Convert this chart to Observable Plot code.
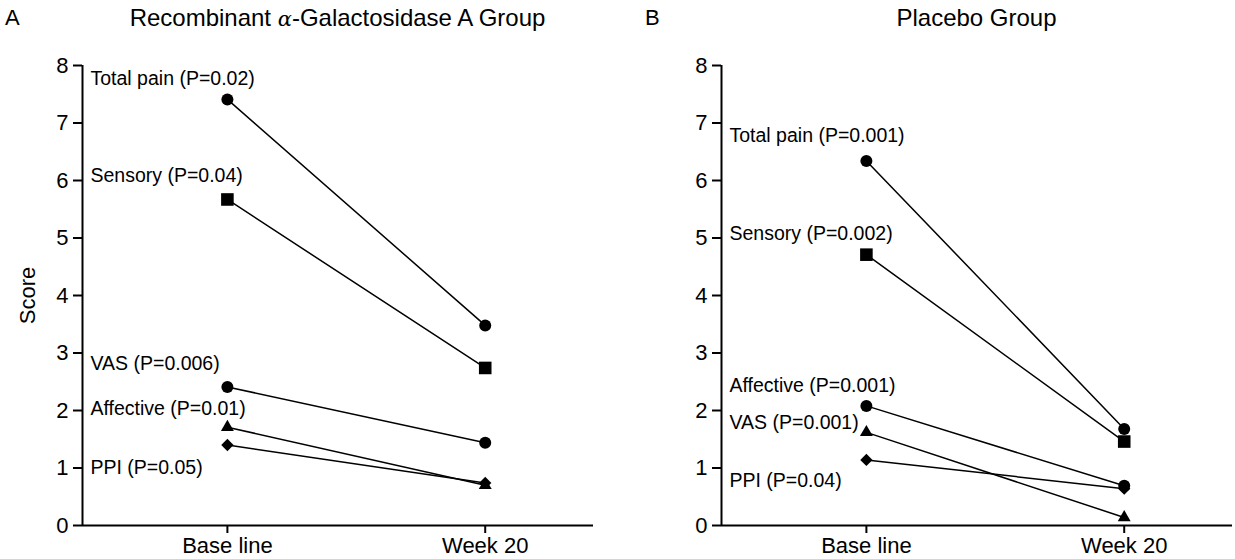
<!DOCTYPE html>
<html>
<head>
<meta charset="utf-8">
<script src="https://cdn.jsdelivr.net/npm/d3@7"></script>
<script src="https://cdn.jsdelivr.net/npm/@observablehq/plot@0.6"></script>
<style>
  body { margin: 0; background: #fff; }
  #root { position: relative; width: 1235px; height: 559px; overflow: hidden; font-family: "Liberation Sans", Arial, sans-serif; color: #000; }
  .t { position: absolute; font-size: 24px; line-height: 1; white-space: nowrap; }
  .panel { position: absolute; top: 40px; }
</style>
</head>
<body>
<div id="root">
  <div class="t" style="left:5px; top:7px; font-size:22px;">A</div>
  <div class="t" style="left:82px; width:511px; top:6px; text-align:center;">Recombinant <i style="font-family:'DejaVu Serif',serif;font-size:21px">α</i>-Galactosidase A Group</div>
  <div class="t" style="left:645px; top:7px; font-size:22px;">B</div>
  <div class="t" style="left:721px; width:511px; top:6px; text-align:center;">Placebo Group</div>
  <div class="panel" id="pa" style="left:0px;"></div>
  <div class="panel" id="pb" style="left:617px;"></div>
</div>
<script>
// ---- data ----
const timepoints = ["Base line", "Week 20"];
const yTicks = [0, 1, 2, 3, 4, 5, 6, 7, 8];

const measuresA = ["Total pain", "Sensory", "VAS", "Affective", "PPI"];
const pValuesA  = ["0.02", "0.04", "0.006", "0.01", "0.05"];
const baselineA = [7.41, 5.67, 2.41, 1.71, 1.40];
const week20A   = [3.48, 2.74, 1.44, 0.70, 0.74];
const labelAtA  = [7.77, 6.09, 2.82, 2.03, 1.01];
const shapesA   = ["circle", "square", "circle", "triangle", "diamond"];

const measuresB = ["Total pain", "Sensory", "Affective", "VAS", "PPI"];
const pValuesB  = ["0.001", "0.002", "0.001", "0.001", "0.04"];
const baselineB = [6.34, 4.71, 2.08, 1.62, 1.14];
const week20B   = [1.68, 1.46, 0.69, 0.14, 0.64];
const labelAtB  = [6.78, 5.08, 2.43, 1.78, 0.78];
const shapesB   = ["circle", "square", "circle", "triangle", "diamond"];

// ---- drawing ----
const xDomain = [-0.562, 1.42];

function panel(measures, pValues, base, wk, labelAt, shapes, opts) {
  const rows = [];
  measures.forEach((m, i) => {
    rows.push({measure: m, t: 0, v: base[i], shape: shapes[i]});
    rows.push({measure: m, t: 1, v: wk[i], shape: shapes[i]});
  });
  const labels = measures.map((m, i) => ({text: `${m} (P=${pValues[i]})`, y: labelAt[i]}));
  const dotStyle = {
    circle:   {symbol: "circle", r: 6},
    square:   {symbol: "square", r: 7.1},
    triangle: {symbol: "triangle", r: 4.8},
    diamond:  {symbol: "square", r: 4.9, rotate: 45}
  };
  const dots = Object.keys(dotStyle).map(k =>
    Plot.dot(rows.filter(d => d.shape === k), {x: "t", y: "v", fill: "black", stroke: "none", ...dotStyle[k]}));
  return Plot.plot({
    width: opts.width,
    height: 519,
    marginLeft: opts.marginLeft,
    marginRight: opts.marginRight,
    marginTop: 25,
    marginBottom: 34,
    style: {fontFamily: "'Liberation Sans', Arial, sans-serif", fontSize: "22px", color: "black", background: "white", overflow: "visible"},
    x: {domain: xDomain},
    y: {domain: [0, 8]},
    marks: [
      Plot.axisY({ticks: yTicks, tickSize: 9, tickPadding: 5, strokeWidth: 2, fontSize: 22,
        label: opts.ylabel, labelAnchor: "center", labelArrow: "none", labelOffset: 63}),
      Plot.axisX({ticks: [0, 1], tickFormat: i => timepoints[i], tickSize: 8, tickPadding: 4, strokeWidth: 2, fontSize: 22, label: null}),
      Plot.ruleY([0], {strokeWidth: 2}),
      Plot.ruleX([xDomain[0]], {strokeWidth: 2}),
      Plot.line(rows, {x: "t", y: "v", z: "measure", stroke: "black", strokeWidth: 1.5}),
      ...dots,
      Plot.text(labels, {y: "y", text: "text", frameAnchor: "left", dx: 8, textAnchor: "start", fontSize: 19.5})
    ]
  });
}

document.getElementById("pa").append(
  panel(measuresA, pValuesA, baselineA, week20A, labelAtA, shapesA, {width: 617, marginLeft: 82, marginRight: 24, ylabel: "Score"}));
document.getElementById("pb").append(
  panel(measuresB, pValuesB, baselineB, week20B, labelAtB, shapesB, {width: 618, marginLeft: 104, marginRight: 3, ylabel: null}));
</script>
</body>
</html>
